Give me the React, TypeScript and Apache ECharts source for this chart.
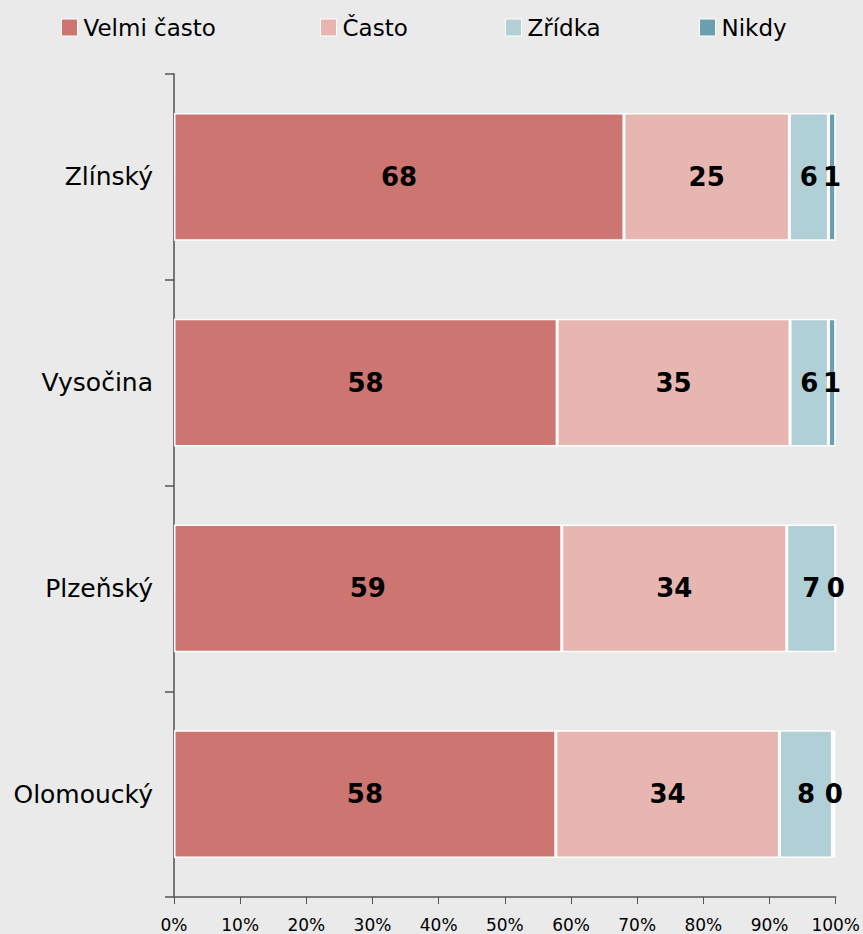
import React, { useEffect, useRef } from "react";
import * as echarts from "echarts";

const categories = ["Zlínský", "Vysočina", "Plzeňský", "Olomoucký"];
const seriesNames = ["Velmi často", "Často", "Zřídka", "Nikdy"];
const velmiCasto = [68.0, 57.9, 58.6, 57.7];
const casto = [25.0, 35.2, 34.0, 33.8];
const zridka = [5.9, 5.8, 7.4, 8.0];
const nikdy = [1.1, 1.1, 0.0, 0.45];
const colors = ["#CD7570", "#E8B6B0", "#B0CFD6", "#6A9FAF"];
const xTicks = [0, 10, 20, 30, 40, 50, 60, 70, 80, 90, 100];
const legendLefts = [61, 320, 505, 699];

export default function App() {
  const ref = useRef<HTMLDivElement>(null);
  useEffect(() => {
    if (!ref.current) return;
    const chart = echarts.init(ref.current, null, { renderer: "svg" });
    const font = "DejaVu Sans";
    const values = [velmiCasto, casto, zridka, nikdy];
    chart.setOption({
      animation: false,
      backgroundColor: "#EAEAEA",
      textStyle: { fontFamily: font },
      color: colors,
      legend: seriesNames.map((name, i) => ({
        top: 16,
        left: legendLefts[i],
        padding: 0,
        itemWidth: 16,
        itemHeight: 17,
        icon: "rect",
        itemStyle: { borderColor: "#ffffff", borderWidth: 1 },
        textStyle: { fontFamily: font, fontSize: 23, color: "#000", padding: [0, 0, 0, 1] },
        data: [name],
      })),
      grid: { left: 174, right: 27, top: 74, bottom: 37, containLabel: false },
      xAxis: {
        type: "value",
        min: xTicks[0],
        max: xTicks[xTicks.length - 1],
        interval: 10,
        splitLine: { show: false },
        axisLine: { show: true, lineStyle: { color: "#555", width: 1.5 } },
        axisTick: { show: true, length: 7, lineStyle: { color: "#555" } },
        axisLabel: {
          formatter: (v: number) => v + "%",
          fontFamily: font,
          fontSize: 17,
          color: "#000",
          margin: 19,
        },
      },
      yAxis: {
        type: "category",
        data: categories,
        inverse: true,
        axisLine: { show: true, lineStyle: { color: "#777", width: 2 } },
        axisTick: { show: true, length: 9, lineStyle: { color: "#555", width: 1.5 } },
        axisLabel: { fontFamily: font, fontSize: 25, color: "#000", margin: 21 },
      },
      series: seriesNames.map((name, i) => ({
        name,
        type: "bar",
        stack: "total",
        barCategoryGap: "38%",
        data: values[i],
        itemStyle: { color: colors[i], borderColor: "#ffffff", borderWidth: 1.5 },
        label: {
          show: true,
          position: "inside",
          formatter: (p: any) => String(Math.round(p.value)),
          fontFamily: font,
          fontWeight: "bold",
          fontSize: 26,
          color: "#000",
        },
      })),
    });
    return () => chart.dispose();
  }, []);
  return (
    <div
      ref={ref}
      style={{ width: 863, height: 934, position: "fixed", left: 0, top: 0 }}
    />
  );
}
